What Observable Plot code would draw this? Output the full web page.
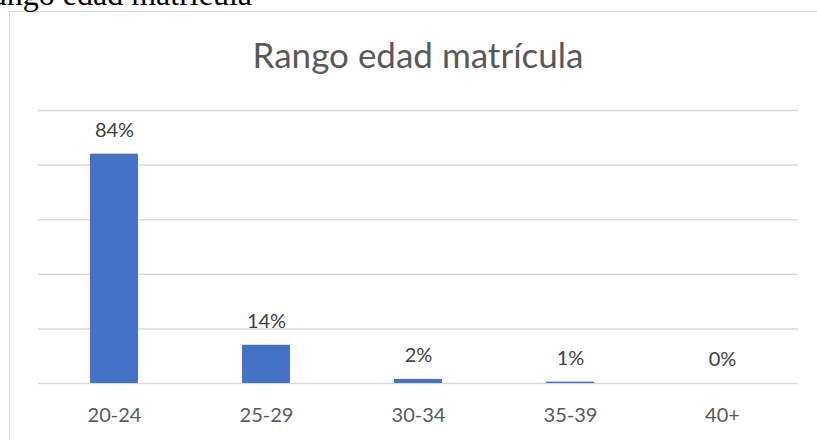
<!DOCTYPE html>
<html>
<head>
<meta charset="utf-8">
<script src="https://cdn.jsdelivr.net/npm/d3@7"></script>
<script src="https://cdn.jsdelivr.net/npm/@observablehq/plot@0.6"></script>
<style>
  html, body { margin: 0; padding: 0; background: #fff; }
  #page { position: relative; width: 817px; height: 440px; overflow: hidden; background: #fff; }
  #box { position: absolute; left: 9px; top: 11px; width: 1200px; height: 600px; border: 1px solid #d9d9d9; box-sizing: border-box; }
  #chart { position: absolute; left: 0; top: 0; }
  #overlay { position: absolute; left: 0; top: 0; }
</style>
</head>
<body>
<div id="page">
  <div id="box"></div>
  <div id="chart"></div>
  <svg id="overlay" width="817" height="440">
    <text id="doccap" x="252" y="5" text-anchor="end" font-family="Liberation Serif, Times New Roman, serif" font-size="32" fill="#000">Rango edad matrícula</text>
    <text id="title" x="418" y="68" text-anchor="middle" font-family="Lato, sans-serif" font-size="35" fill="#595959">Rango edad matrícula</text>
  </svg>
</div>
<script>
const categories = ["20-24", "25-29", "30-34", "35-39", "40+"];
const values = [84, 14, 1.5, 0.5, 0];           // percent
const valueLabels = ["84%", "14%", "2%", "1%", "0%"];
const yTicks = [0, 20, 40, 60, 80, 100];

const data = categories.map((c, i) => ({ cat: c, value: values[i], label: valueLabels[i] }));

const chart = Plot.plot({
  width: 817,
  height: 440,
  marginLeft: 38,
  marginRight: 19,
  marginTop: 110,
  marginBottom: 57,
  style: { fontFamily: "Lato, sans-serif", background: "transparent", color: "#595959" },
  x: { domain: categories, paddingInner: 0.684, paddingOuter: 0.342, align: 0.5, axis: null, label: null },
  y: { domain: [0, 100], axis: null },
  marks: [
    Plot.ruleY(yTicks, { stroke: "#d9d9d9", strokeWidth: 1.5 }),
    Plot.barY(data, { x: "cat", y: "value", fill: "#4472C4" }),
    Plot.text(data, { x: "cat", y: "value", text: "label", dy: -23.5, lineAnchor: "middle", fontSize: 20, fill: "#404040" }),
    Plot.axisX({ tickSize: 0, tickPadding: 24, fontSize: 20, color: "#595959", label: null })
  ]
});
document.getElementById("chart").appendChild(chart);
</script>
</body>
</html>
